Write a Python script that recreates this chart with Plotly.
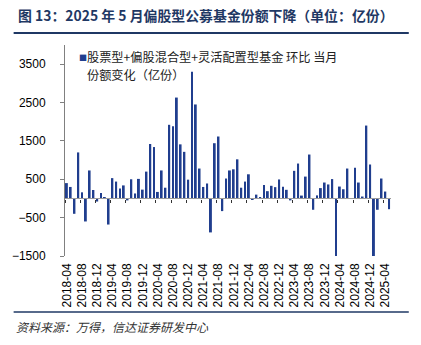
import plotly.graph_objects as go

months = [f"{y}-{m:02d}" for y in range(2018, 2026) for m in range(1, 13)]
months = months[months.index("2018-04"):months.index("2025-05") + 1]

values = [400, 300, -400, 1200, 160, -600, 730, 220, -80,
          140, 30, -680, 530, 440, 260, 340, -50, 500, 130, 510, 230,
          700, 1420, 1340, 170, 730, 280, 1920, 1880, 2630, 1410, 1215, 490,
          3300, 2450, 780, 300, 390, -885, 1440, 1615, -330, 520, 730, 760,
          1020, 280, 440, 630, -40, 100, 20, 350, 190, 330, 295, 495,
          305, 225, -50, 720, 910, 75, 570, 1145, -295, 80, 270, 415,
          365, 505, -1545, 310, 240, 780, 10, 800, 415, 50, 1900, 885,
          -1545, -295, 520, 180, -280]

tick_labels = ["2018-04", "2018-08", "2018-12", "2019-04", "2019-08", "2019-12",
               "2020-04", "2020-08", "2020-12", "2021-04", "2021-08", "2021-12",
               "2022-04", "2022-08", "2022-12", "2023-04", "2023-08", "2023-12",
               "2024-04", "2024-08", "2024-12", "2025-04"]

y_ticks = [-1500, -500, 500, 1500, 2500, 3500]
y_range = [-1500, 4000]

title = "图 13：2025 年 5 月偏股型公募基金份额下降（单位：亿份）"
series_lines = ["股票型+偏股混合型+灵活配置型基金 环比 当月", "份额变化（亿份）"]
source = "资料来源：万得，信达证券研发中心"

BAR = "#203e8e"
NAVY = "#1f3864"
CJK = "Noto Sans CJK SC"
LAT = "Liberation Sans, Arial"

fig = go.Figure()
fig.add_trace(go.Bar(x=months, y=values, marker=dict(color=BAR, line=dict(width=0)),
                     width=0.5, name="".join(series_lines), showlegend=False))

boundary_ticks = [months.index(t) - 0.5 for t in tick_labels]
zero_pos = (0 - y_range[0]) / (y_range[1] - y_range[0])

fig.update_layout(
    width=421, height=345,
    margin=dict(l=61, r=30, t=45, b=89),
    paper_bgcolor="white", plot_bgcolor="white",
    xaxis=dict(type="category", range=[-0.5, len(months) - 0.5],
               tickmode="array", tickvals=tick_labels, ticktext=tick_labels,
               tickangle=-90, ticks="", showline=False, showgrid=False,
               tickfont=dict(family=LAT, size=12, color="black"),
               ticklabelstandoff=4),
    xaxis2=dict(overlaying="x", anchor="free", position=zero_pos,
                range=[-0.5, len(months) - 0.5], tickmode="array",
                tickvals=boundary_ticks, showticklabels=False,
                ticks="outside", ticklen=3, tickcolor="#333333", tickwidth=1,
                showline=True, linecolor="#9a9a9a", linewidth=1.2,
                showgrid=False, zeroline=False),
    yaxis=dict(range=y_range, tickmode="array", tickvals=y_ticks,
               ticks="outside", ticklen=4, tickcolor="#808080",
               showline=True, linecolor="#808080", linewidth=1,
               showgrid=False, zeroline=False,
               tickfont=dict(family=LAT, size=12, color="black"),
               ticklabelstandoff=12),
    bargap=0.5,
)

fig.add_trace(go.Scatter(x=[-0.5, len(months) - 0.5], y=[0, 0], xaxis="x2",
                         mode="lines", line=dict(width=0), showlegend=False,
                         hoverinfo="skip"))

# title
fig.add_annotation(text=title, xref="paper", yref="paper",
                   x=-50 / 330, y=1 + 30 / 211, xanchor="left", yanchor="middle",
                   showarrow=False,
                   font=dict(family=CJK, size=13.9, color=NAVY, weight="bold"))
# legend
fig.add_annotation(text="■", xref="paper", yref="paper",
                   x=12 / 330, y=1 - 12.5 / 211, xanchor="left", yanchor="middle",
                   showarrow=False, font=dict(family=CJK, size=8, color=BAR))
for i, line in enumerate(series_lines):
    fig.add_annotation(text=line, xref="paper", yref="paper",
                       x=21 / 330, y=1 - (12 + 18 * i) / 211,
                       xanchor="left", yanchor="middle",
                       align="left", showarrow=False, borderpad=0,
                       font=dict(family=CJK, size=12.2, color="#222222"))
# source
fig.add_annotation(text=source, xref="paper", yref="paper",
                   x=-52 / 330, y=-70 / 211, xanchor="left", yanchor="middle",
                   showarrow=False,
                   font=dict(family=CJK, size=12, color="#333333", style="italic"))

# frame lines
fig.add_shape(type="line", xref="paper", yref="paper",
              x0=-52 / 330, x1=348 / 330, y0=1 + 12 / 211, y1=1 + 12 / 211,
              line=dict(color=NAVY, width=2))
fig.add_shape(type="line", xref="paper", yref="paper",
              x0=-52 / 330, x1=348 / 330, y0=-56 / 211, y1=-56 / 211,
              line=dict(color=NAVY, width=1.5))

fig.write_html("out.html")
